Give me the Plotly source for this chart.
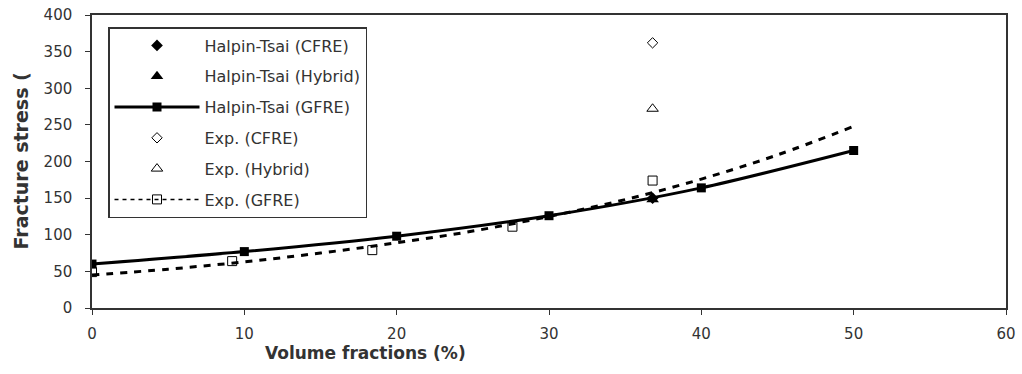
import plotly.graph_objects as go

# ---- data ----
ht_gfre_x = [0, 10, 20, 30, 40, 50]
ht_gfre_y = [60, 77, 98, 126, 164, 215]

ht_cfre_x = [36.8]
ht_cfre_y = [150]

ht_hyb_x = [36.8]
ht_hyb_y = [148]

exp_cfre_x = [36.8]
exp_cfre_y = [362]

exp_hyb_x = [36.8]
exp_hyb_y = [272]

exp_gfre_x = [0, 9.2, 18.4, 27.6, 36.8]
exp_gfre_y = [49, 64, 79, 111, 174]

# dashed trend line for Exp. (GFRE)
trend_x = [0, 5, 10, 15, 20, 25, 30, 35, 40, 45, 50]
trend_y = [45, 53, 63, 75, 89, 105, 125, 148, 176, 209, 248]

x_ticks = [0, 10, 20, 30, 40, 50, 60]
y_ticks = [0, 50, 100, 150, 200, 250, 300, 350, 400]

BLACK = "#000000"
AX = "#333333"
TXT = "#333333"
FONT = "DejaVu Sans, sans-serif"

fig = go.Figure()

fig.add_trace(go.Scatter(x=ht_cfre_x, y=ht_cfre_y, mode="markers",
                         name="Halpin-Tsai (CFRE)", legendgroup="a",
                         marker=dict(symbol="diamond", size=9, color=BLACK)))
fig.add_trace(go.Scatter(x=ht_hyb_x, y=ht_hyb_y, mode="markers",
                         name="Halpin-Tsai (Hybrid)", legendgroup="b",
                         marker=dict(symbol="triangle-up", size=11, color=BLACK)))
fig.add_trace(go.Scatter(x=ht_gfre_x, y=ht_gfre_y, mode="lines+markers",
                         name="Halpin-Tsai (GFRE)", legendgroup="c",
                         line=dict(color=BLACK, width=3, shape="spline", smoothing=0.8),
                         marker=dict(symbol="square", size=9, color=BLACK)))
fig.add_trace(go.Scatter(x=exp_cfre_x, y=exp_cfre_y, mode="markers",
                         name="Exp. (CFRE)", legendgroup="d",
                         marker=dict(symbol="diamond-open", size=8, color=BLACK,
                                     line=dict(width=1))))
fig.add_trace(go.Scatter(x=exp_hyb_x, y=exp_hyb_y, mode="markers",
                         name="Exp. (Hybrid)", legendgroup="e",
                         marker=dict(symbol="triangle-up-open", size=10, color=BLACK,
                                     line=dict(width=1))))
# Exp. (GFRE) dashed trend line
fig.add_trace(go.Scatter(x=trend_x, y=trend_y, mode="lines",
                         name="Exp. (GFRE)", legendgroup="f", showlegend=False,
                         line=dict(color=BLACK, width=3, dash="7px,7px", shape="spline")))
# Exp. (GFRE) measured points
fig.add_trace(go.Scatter(x=exp_gfre_x, y=exp_gfre_y, mode="markers",
                         name="Exp. (GFRE)", legendgroup="f", showlegend=False,
                         marker=dict(symbol="square-open", size=9, color=BLACK,
                                     line=dict(width=1))))
# legend entry for Exp. (GFRE): dashed line with open square
fig.add_trace(go.Scatter(x=[None], y=[None], mode="lines+markers",
                         name="Exp. (GFRE)", legendgroup="f",
                         line=dict(color=BLACK, width=1.5, dash="4px,4px"),
                         marker=dict(symbol="square-open", size=9, color=BLACK,
                                     line=dict(width=1))))

fig.update_layout(
    width=1022, height=374,
    margin=dict(l=92, r=16, t=15, b=66, autoexpand=False),
    paper_bgcolor="white", plot_bgcolor="white",
    font=dict(family=FONT, size=15, color=TXT),
    showlegend=True,
    legend=dict(x=(108 - 92) / 914, y=(308 - 27) / 293, xanchor="left", yanchor="top",
                bgcolor="white", bordercolor=AX, borderwidth=1.5,
                font=dict(family=FONT, size=16, color=TXT),
                tracegroupgap=7, itemwidth=85),
    xaxis=dict(range=[0, 60], tickvals=x_ticks, ticktext=[str(v) for v in x_ticks],
               showgrid=False, zeroline=False, showline=True, linecolor=AX, linewidth=1.5,
               mirror=True, ticks="outside", ticklen=5, tickcolor=AX,
               ticklabelstandoff=6, automargin=False,
               tickfont=dict(family=FONT, size=15, color=TXT)),
    yaxis=dict(range=[0, 400], tickvals=y_ticks, ticktext=[str(v) for v in y_ticks],
               showgrid=False, zeroline=False, showline=True, linecolor=AX, linewidth=1.5,
               mirror=True, ticks="outside", ticklen=5, tickcolor=AX,
               ticklabelstandoff=10, automargin=False,
               tickfont=dict(family=FONT, size=15, color=TXT)),
    annotations=[
        dict(text="<b>Volume fractions (%)</b>", xref="paper", yref="paper",
             x=(365 - 92) / 914, y=-(353 - 308) / 293, xanchor="center", yanchor="middle",
             showarrow=False,
             font=dict(family=FONT, size=17, color=TXT)),
        dict(text="<b>Fracture stress (</b>", xref="paper", yref="paper",
             x=-(92 - 20) / 914, y=0.5, xanchor="center", yanchor="middle",
             textangle=-90, showarrow=False,
             font=dict(family=FONT, size=19, color=TXT)),
    ],
)

# remove the default page margin so the figure sits at the window's top-left corner
fig.write_html("out.html",
               config={"displayModeBar": False},
               post_script="document.body.style.margin='0px';document.body.style.overflow='hidden';")
